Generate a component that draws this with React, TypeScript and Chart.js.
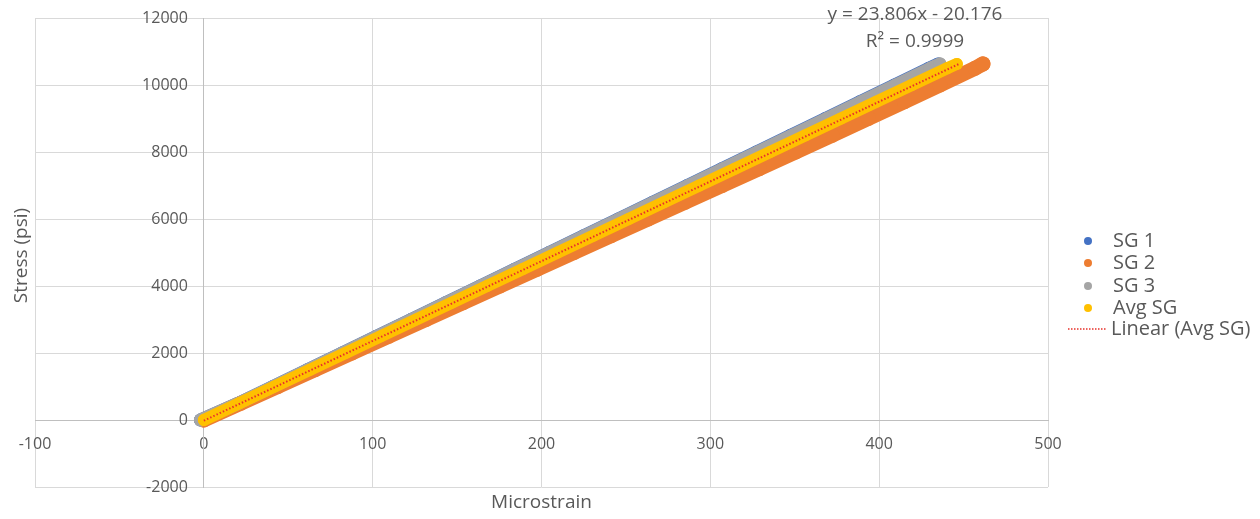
import React, { useEffect, useRef } from "react";
import { Chart, registerables } from "chart.js";

Chart.register(...registerables);

// Stress levels (psi) shared by the strain-gauge readings
const STRESS = [0, 500, 1000, 1500, 2000, 2500, 3000, 3500, 4000, 4500, 5000, 5500, 6000, 6500, 7000, 7500, 8000, 8500, 9000, 9500, 10000, 10500, 10630];

// Microstrain read for each gauge at those stress levels
const SG1_STRAIN = [-2, 20.4, 40.9, 61.3, 81.8, 102.2, 122.7, 143.1, 163.6, 184.0, 204.5, 224.9, 245.4, 265.8, 286.3, 306.7, 327.2, 347.6, 368.1, 388.5, 409.0, 429.4, 435];
const SG2_STRAIN = [0, 21.9, 43.9, 65.8, 87.7, 109.6, 131.6, 153.5, 175.4, 197.4, 219.3, 241.2, 263.2, 285.1, 307.0, 328.9, 350.6, 372.2, 393.5, 414.9, 436.0, 456.8, 461.5];
const SG3_STRAIN = [-2, 20.5, 41.0, 61.5, 82.0, 102.5, 123.0, 143.4, 163.9, 184.4, 204.9, 225.4, 245.9, 266.4, 286.9, 307.4, 327.9, 348.4, 368.9, 389.3, 409.8, 430.3, 436];
const AVG_STRAIN = [0, 21.0, 41.9, 62.9, 83.9, 104.8, 125.8, 146.8, 167.7, 188.7, 209.6, 230.6, 251.6, 272.5, 293.5, 314.5, 335.4, 356.4, 377.4, 398.3, 419.3, 440.3, 446];

// Linear trendline endpoints (y = 23.806x - 20.176)
const TREND_X = [0, 447];
const TREND_Y = [-20.176, 10621.1];

const SERIES_NAMES = ["SG 1", "SG 2", "SG 3", "Avg SG"];
const SERIES_COLORS = ["#4472C4", "#ED7D31", "#A5A5A5", "#FFC000"];
const SERIES_WIDTHS = [13, 15, 13, 12];
const TREND_NAME = "Linear (Avg SG)";
const TREND_COLOR = "#E8302A";
const EQUATION = "y = 23.806x - 20.176";
const R2_TEXT = "R² = 0.9999";
const X_TITLE = "Microstrain";
const Y_TITLE = "Stress (psi)";

const TEXT_COLOR = "#595959";
const FONT = '"Open Sans", "DejaVu Sans", sans-serif';

const toPoints = (xs: number[], ys: number[]) => xs.map((x, i) => ({ x, y: ys[i] }));

const textPlugin = {
  id: "excelTexts",
  afterDraw(chart: any) {
    const ctx = chart.ctx as CanvasRenderingContext2D;
    const area = chart.chartArea;
    const yScale = chart.scales.y;
    const xScale = chart.scales.x;
    ctx.save();
    ctx.fillStyle = TEXT_COLOR;

    // y tick labels, right-aligned next to the vertical axis at x = 0
    ctx.font = `16px ${FONT}`;
    ctx.textAlign = "right";
    ctx.textBaseline = "middle";
    const axisX = xScale.getPixelForValue(0);
    yScale.ticks.forEach((t: any) => {
      ctx.fillText(String(t.value), axisX - 16, yScale.getPixelForValue(t.value));
    });

    ctx.font = `19px ${FONT}`;
    ctx.textAlign = "center";
    // axis titles
    ctx.fillText(X_TITLE, (area.left + area.right) / 2, 503);
    ctx.save();
    ctx.translate(22, (area.top + area.bottom) / 2 + 3);
    ctx.rotate(-Math.PI / 2);
    ctx.fillText(Y_TITLE, 0, 0);
    ctx.restore();
    // equation
    ctx.fillText(EQUATION, 915, 15);
    ctx.fillText(R2_TEXT, 915, 42);

    // legend
    ctx.font = `20px ${FONT}`;
    const legendY = [241, 263, 286, 308, 329];
    ctx.textAlign = "left";
    SERIES_NAMES.forEach((name, i) => {
      ctx.beginPath();
      ctx.fillStyle = SERIES_COLORS[i];
      ctx.arc(1088, legendY[i], 4, 0, Math.PI * 2);
      ctx.fill();
      ctx.fillStyle = TEXT_COLOR;
      ctx.fillText(name, 1113, legendY[i]);
    });
    ctx.beginPath();
    ctx.strokeStyle = TREND_COLOR;
    ctx.lineWidth = 1.5;
    ctx.setLineDash([1.5, 1.5]);
    ctx.moveTo(1068, legendY[4]);
    ctx.lineTo(1107, legendY[4]);
    ctx.stroke();
    ctx.setLineDash([]);
    ctx.fillStyle = TEXT_COLOR;
    ctx.fillText(TREND_NAME, 1111, legendY[4]);
    ctx.restore();
  },
};

const zeroPadding = (scale: any) => {
  scale.paddingLeft = 0;
  scale.paddingRight = 0;
  scale.paddingTop = 0;
  scale.paddingBottom = 0;
};

export default function App() {
  const canvasRef = useRef<HTMLCanvasElement | null>(null);

  useEffect(() => {
    if (!canvasRef.current) return;
    const strains = [SG1_STRAIN, SG2_STRAIN, SG3_STRAIN, AVG_STRAIN];
    const orders = [4, 3, 2, 1];
    const datasets: any[] = strains.map((s, i) => ({
      label: SERIES_NAMES[i],
      data: toPoints(s, STRESS),
      showLine: true,
      borderColor: SERIES_COLORS[i],
      backgroundColor: SERIES_COLORS[i],
      borderWidth: SERIES_WIDTHS[i],
      borderCapStyle: "round",
      borderJoinStyle: "round",
      pointRadius: SERIES_WIDTHS[i] / 2,
      pointBorderWidth: 0,
      order: orders[i],
    }));
    datasets.push({
      label: TREND_NAME,
      data: toPoints(TREND_X, TREND_Y),
      showLine: true,
      borderColor: TREND_COLOR,
      borderWidth: 2,
      borderDash: [1.5, 2],
      pointRadius: 0,
      order: 0,
    });

    const chart = new Chart(canvasRef.current, {
      type: "scatter",
      data: { datasets },
      options: {
        animation: false,
        responsive: false,
        devicePixelRatio: 1,
        layout: { padding: { left: 35, top: 18, right: 212, bottom: 32 } },
        plugins: { legend: { display: false }, tooltip: { enabled: false } },
        scales: {
          x: {
            type: "linear",
            position: { y: 0 } as any,
            min: -100,
            max: 500,
            afterFit: zeroPadding,
            ticks: {
              stepSize: 100,
              color: TEXT_COLOR,
              font: { family: FONT, size: 16 },
              padding: 15,
              maxRotation: 0,
              callback: (v: any) => String(v),
            },
            grid: { color: "#D9D9D9", drawTicks: false, lineWidth: 1 },
            border: { color: "#BFBFBF", width: 1 },
          },
          y: {
            type: "linear",
            position: { x: 0 } as any,
            min: -2000,
            max: 12000,
            afterFit: zeroPadding,
            ticks: { stepSize: 2000, display: false },
            grid: { color: "#D9D9D9", drawTicks: false, lineWidth: 1 },
            border: { color: "#BFBFBF", width: 1 },
          },
        },
      },
      plugins: [textPlugin],
    });
    return () => chart.destroy();
  }, []);

  return (
    <div style={{ position: "absolute", left: 0, top: 0, width: 1260, height: 519, background: "#fff" }}>
      <canvas ref={canvasRef} width={1260} height={519} />
    </div>
  );
}
